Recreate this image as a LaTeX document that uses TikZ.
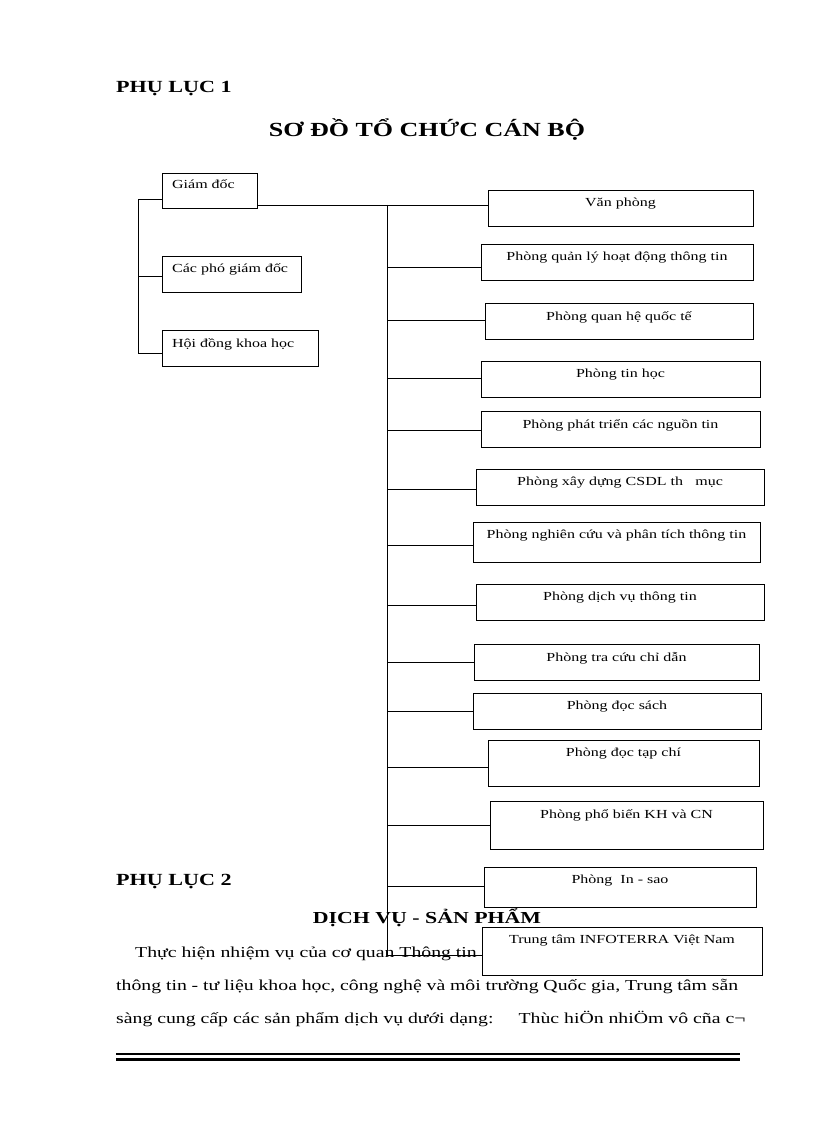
\documentclass[tikz,border=0pt]{standalone}
\usepackage{fontspec}
\setmainfont{Liberation Serif}[FakeStretch=1.3]
\begin{document}
\begin{tikzpicture}[x=1pt,y=-1pt,
  bx/.style={draw,fill=white,line width=0.8pt},
  lbl/.style={font=\fontsize{12.3}{14}\selectfont,anchor=north,inner sep=0pt},
  body/.style={anchor=west,font=\fontsize{15.2}{18}\selectfont,inner sep=0pt},
  ln/.style={line width=0.8pt}]
\useasboundingbox (0,0) rectangle (816,1123);
\node[anchor=west,inner sep=0pt,font=\bfseries\fontsize{17}{20}\selectfont] (p1) at (116,89) {PHỤ LỤC 1};
\node[font=\bfseries\fontsize{20}{24}\selectfont] (t1) at (427,130) {SƠ ĐỒ TỔ CHỨC CÁN BỘ};
% body text
\node[anchor=west,inner sep=0pt,font=\bfseries\fontsize{17}{20}\selectfont] (p2) at (116,882) {PHỤ LỤC 2};
\node[font=\bfseries\fontsize{16.8}{20}\selectfont] (t2) at (427,918) {DỊCH VỤ - SẢN PHẨM};
\node[body] (b1) at (135,954) {Thực hiện nhiệm vụ của cơ quan Thông tin tư liệu và phát triển hệ};
\node[body] (b2) at (116,986) {\makebox[622pt][s]{thông tin - tư liệu khoa học, công nghệ và môi trường Quốc gia, Trung tâm sẵn}};
\node[body] (b3) at (116,1019) {sàng cung cấp các sản phẩm dịch vụ dưới dạng:\quad\ \ Thùc hiÖn nhiÖm vô cña c¬};
\draw[line width=2.2pt] (116,1054) -- (740,1054);
\draw[line width=2.2pt] (116,1059.5) -- (740,1059.5);
% left group
\draw[ln] (162,199) -- (138,199) -- (138,353) -- (162,353);
\draw[ln] (138,276) -- (162,276);
\draw[bx] (162,173) rectangle (257,208); \node[lbl,anchor=north west] (g) at (172,179) {Giám đốc};
\draw[bx] (162,256) rectangle (301,292); \node[lbl,anchor=north west] (c) at (172,263) {Các phó giám đốc};
\draw[bx] (162,330) rectangle (318,366); \node[lbl,anchor=north west] (h) at (172,338) {Hội đồng khoa học};
% trunk
\draw[ln] (257,205) -- (488,205);
\draw[ln] (387,205) -- (387,955);
\foreach \ya/\xa in {267/481,320/485,378/481,430/481,489/476,545/473,605/476,662/474,711/473,767/488,825/490,886/484,955/482}
  \draw[ln] (387,\ya) -- (\xa,\ya);
\foreach \xa/\ya/\xb/\yb/\t in {
 488/190/753/226/{Văn phòng},
 481/244/753/280/{Phòng quản lý hoạt động thông tin},
 485/303/753/339/{Phòng quan hệ quốc tế},
 481/361/760/397/{Phòng tin học},
 481/411/760/447/{Phòng phát triển các nguồn tin},
 476/469/764/505/{Phòng xây dựng CSDL th\quad mục},
 473/522/760/562/{Phòng nghiên cứu và phân tích thông tin},
 476/584/764/620/{Phòng dịch vụ thông tin},
 474/644/759/680/{Phòng tra cứu chỉ dẫn},
 473/693/761/729/{Phòng đọc sách},
 488/740/759/786/{Phòng đọc tạp chí},
 490/801/763/849/{Phòng phổ biến KH và CN},
 484/867/756/907/{Phòng\ \ In - sao},
 482/927/762/975/{Trung tâm INFOTERRA Việt Nam}}
{
  \draw[bx] (\xa,\ya) rectangle (\xb,\yb);
  \node[lbl] at ({(\xa+\xb)/2},\ya+8) {\t};
}
\end{tikzpicture}
\end{document}
